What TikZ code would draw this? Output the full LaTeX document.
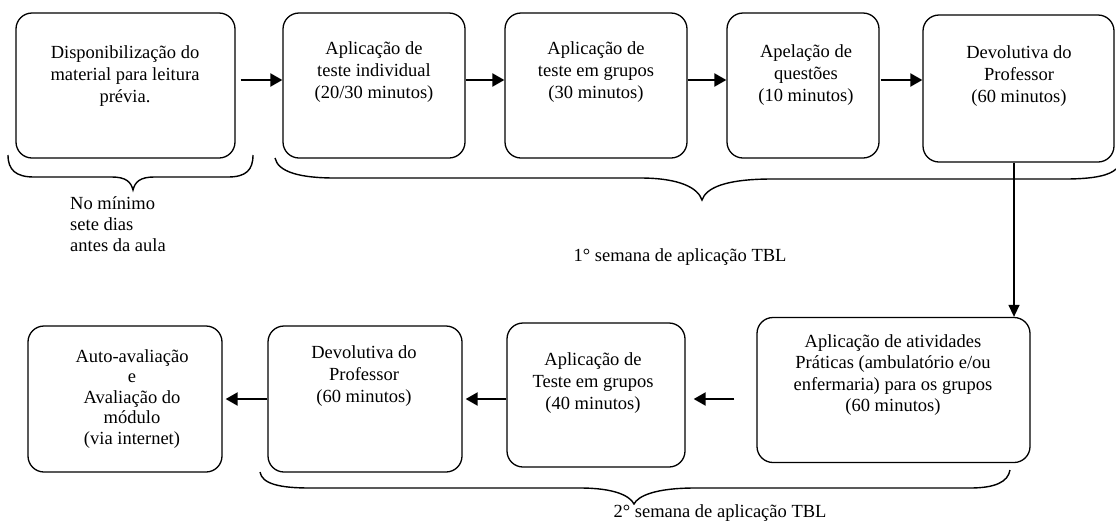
\documentclass[tikz,border=0pt]{standalone}
\usepackage{fontspec}
\setmainfont{Liberation Serif}
\usetikzlibrary{arrows.meta,calc}
\begin{document}
\begin{tikzpicture}[x=1pt,y=-1pt,
  box/.style={draw, line width=1.3pt, rounded corners=16pt, inner sep=0pt},
  txt/.style={align=center, inner sep=0pt, font=\fontsize{18.5}{22}\selectfont},
  lbl/.style={inner sep=0pt, font=\fontsize{18.5}{21}\selectfont},
  arr/.style={line width=2.2pt, -{Triangle[length=12pt,width=13pt]}},
  varr/.style={line width=1.4pt, -{Triangle[length=12pt,width=11pt]}},
  brace/.style={line width=1.4pt}
]
\useasboundingbox (0,0) rectangle (1116,523);
% top row boxes
\node[box, minimum width=219pt, minimum height=145pt] (b1) at (125.5,85.5) {};
\node[box, minimum width=182pt, minimum height=145pt] (b2) at (374,85.5) {};
\node[box, minimum width=182pt, minimum height=145pt] (b3) at (596,85.5) {};
\node[box, minimum width=152pt, minimum height=145pt] (b4) at (803,85.5) {};
\node[box, minimum width=191pt, minimum height=147pt] (b5) at (1018.5,88.5) {};
% bottom row boxes
\node[box, minimum width=273pt, minimum height=145pt] (b6) at (893.5,390) {};
\node[box, minimum width=178pt, minimum height=144pt] (b9) at (596,395) {};
\node[box, minimum width=194pt, minimum height=146pt] (b8) at (365,399) {};
\node[box, minimum width=194pt, minimum height=146pt] (b7) at (125,399) {};
% texts
\node[txt] (t1) at (125,76) {Disponibilização do\\material para leitura\\prévia.};
\node[txt] (t2) at (374,72) {Aplicação de\\teste individual\\(20/30 minutos)};
\node[txt] (t3) at (596,72) {Aplicação de\\teste em grupos\\(30 minutos)};
\node[txt] (t4) at (806,75) {Apelação de\\questões\\(10 minutos)};
\node[txt] (t5) at (1019,76) {Devolutiva do\\Professor\\(60 minutos)};
\begin{scope}
\clip (757,300) rectangle (992,470);
\node[txt, font=\fontsize{18.5}{21.3}\selectfont] (t6) at (893,375) {Aplicação de atividades\\Práticas (ambulatório e/ou\\enfermaria) para os grupos\\(60 minutos)};
\end{scope}
\node[txt] (t9) at (593,383) {Aplicação de\\Teste em grupos\\(40 minutos)};
\node[txt] (t8) at (364,376) {Devolutiva do\\Professor\\(60 minutos)};
\node[txt, font=\fontsize{18.5}{20.5}\selectfont] (t7) at (132,399) {Auto-avaliação\\e\\Avaliação do\\módulo\\(via internet)};
% arrows
\coordinate (r1) at (0,80);
\coordinate (r2) at (0,399);
\coordinate (vx) at (1014,0);
\draw[arr] ($(b1.east |- r1)+(5,0)$) -- (b2.west |- r1);
\draw[arr] (b2.east |- r1) -- (b3.west |- r1);
\draw[arr] (b3.east |- r1) -- (b4.west |- r1);
\draw[arr] ($(b4.east |- r1)+(1,0)$) -- (b5.west |- r1);
\draw[varr] (vx |- b5.south) -- (vx |- b6.north);
\draw[arr] ($(b6.west |- r2)+(-22,0)$) -- ($(b9.east |- r2)+(8,0)$);
\draw[arr] (b9.west |- r2) -- ($(b8.east |- r2)+(3,0)$);
\draw[arr] (b8.west |- r2) -- ($(b7.east |- r2)+(3,0)$);
% braces
\draw[brace] (8,155) .. controls (8,170) and (16,177) .. (34,177) -- (112,177)
  .. controls (126,177) and (131,182) .. (133,190)
  .. controls (135,182) and (140,177) .. (154,177) -- (228,177)
  .. controls (246,177) and (253,170) .. (253,155);
\draw[brace] (275,158) .. controls (278,172) and (300,178) .. (335,178) -- (640,178)
  .. controls (680,178) and (698,188) .. (702,200)
  .. controls (706,188) and (725,179) .. (772,179) -- (1065,179)
  .. controls (1095,179) and (1110,175) .. (1116,169);
\draw[brace] (260,472) .. controls (262,484) and (280,488) .. (310,488) -- (580,488)
  .. controls (615,488) and (630,496) .. (634,504)
  .. controls (638,496) and (655,488) .. (695,488) -- (970,488)
  .. controls (995,488) and (1008,482) .. (1010,470);
% labels
\node[lbl, anchor=west, align=left] (l1) at (70,224) {No mínimo\\sete dias\\antes da aula};
\node[lbl] (l2) at (680,257) {1° semana de aplicação TBL};
\node[lbl] (l3) at (720,513) {2° semana de aplicação TBL};
\end{tikzpicture}
\end{document}
